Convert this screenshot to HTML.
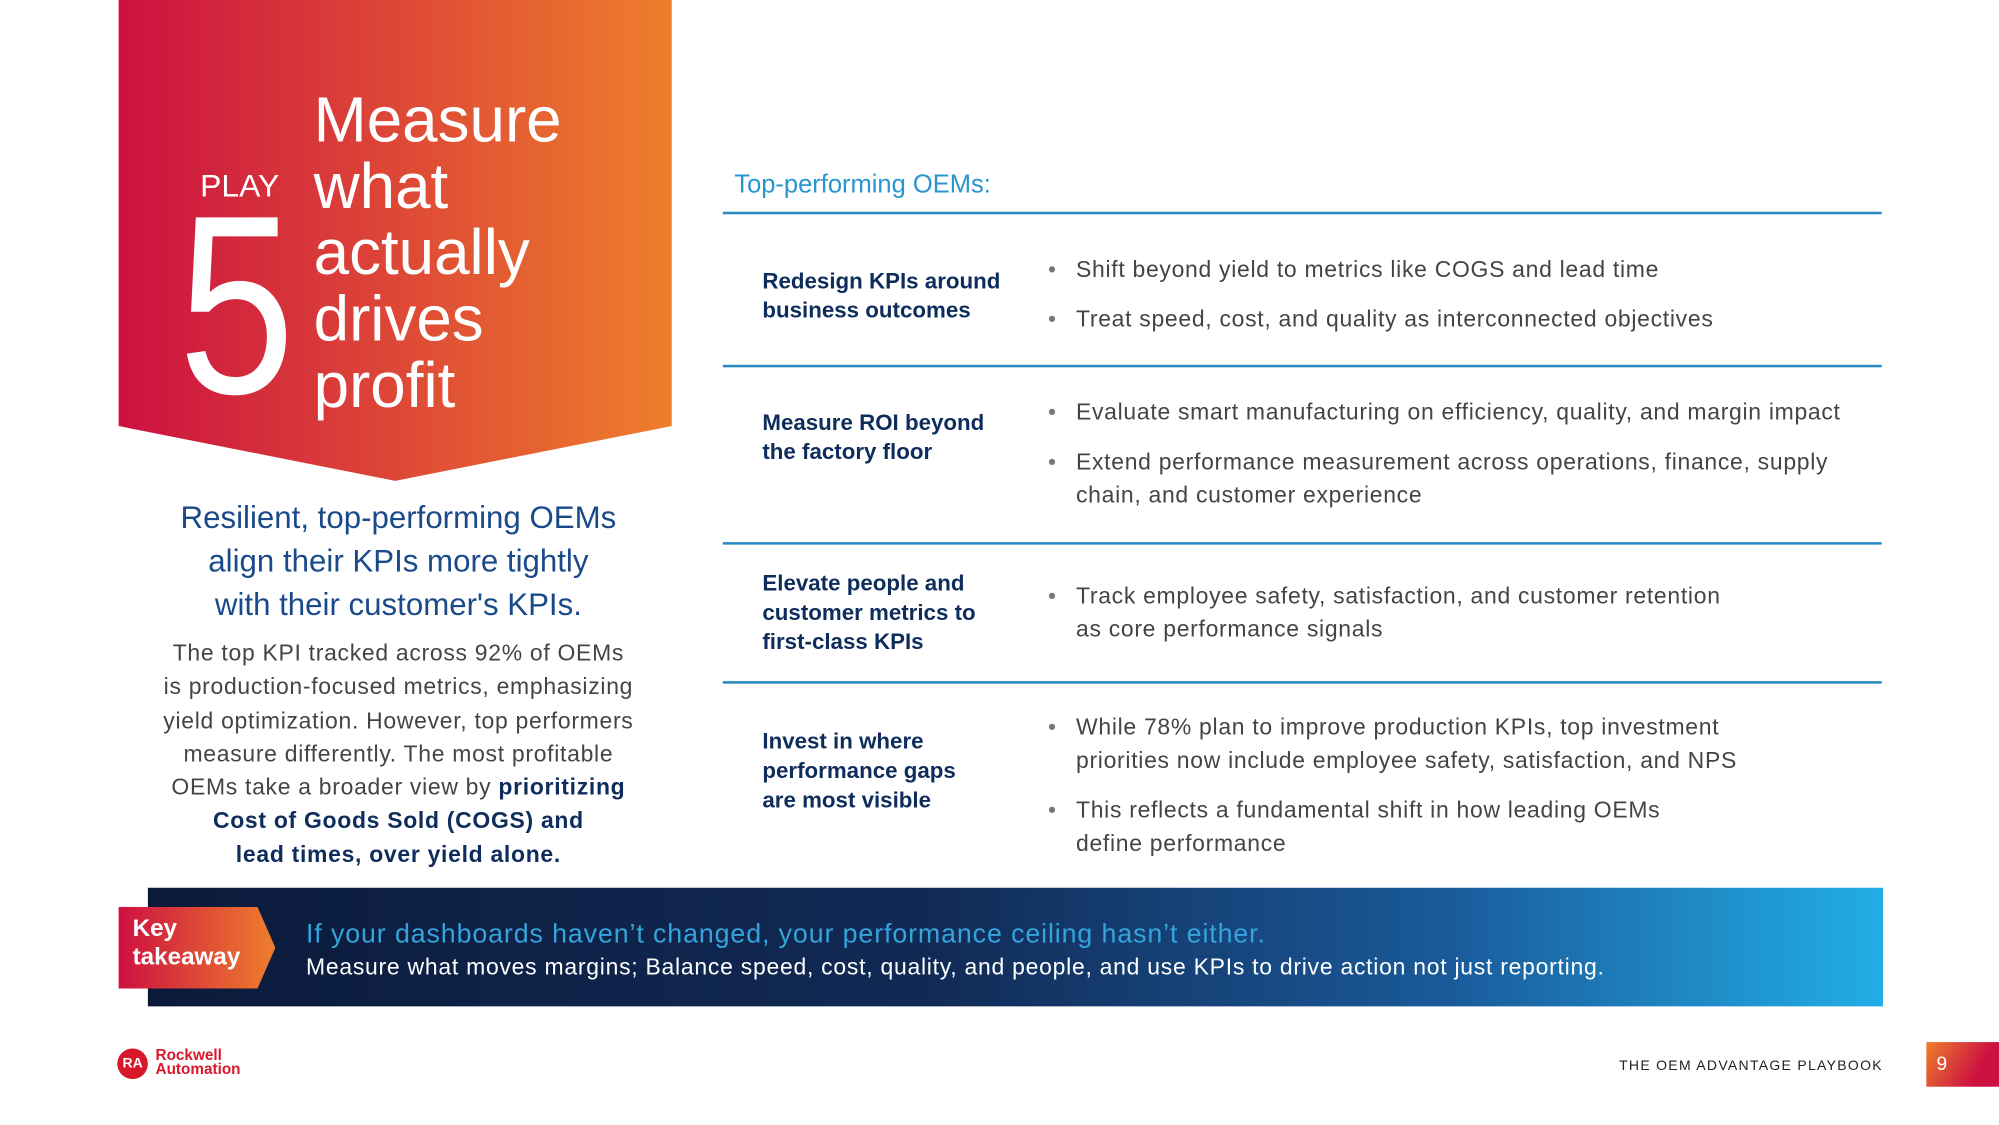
<!DOCTYPE html>
<html><head><meta charset="utf-8"><style>
html,body{margin:0;padding:0;background:#fff;overflow:hidden}
#w{width:1999px;height:1125px;overflow:hidden;position:relative}
#p{position:absolute;left:0;top:0;width:1568px;height:882px;transform:scale(1.27487,1.27551);transform-origin:0 0;font-family:"Liberation Sans",sans-serif}
.a{position:absolute}
.hl{position:absolute;left:567px;width:909px;height:2px;background:#2a8bc4}
.lab{position:absolute;left:598px;color:#0f2d5c;font-weight:bold;font-size:17.5px;line-height:23px}
.b{position:absolute;left:822px;color:#444;font-size:18px;letter-spacing:0.55px;line-height:26px}
.b span{position:absolute;left:0;top:0;color:#777}
.b div{padding-left:22px}
</style></head><body><div id="w"><div id="p">
<svg class="a" style="left:93px;top:0" width="434" height="378">
<defs><linearGradient id="g" x1="0" x2="1"><stop offset="0" stop-color="#cc1141"/><stop offset="1" stop-color="#ee7e2c"/></linearGradient></defs>
<polygon points="0,0 434,0 434,334 217,377 0,334" fill="url(#g)"/></svg>
<div class="a" style="left:157px;top:132px;color:#fff;font-size:25px">PLAY</div>
<div class="a" style="left:140px;top:140px;color:#fff;font-size:200px;line-height:200px;transform:scaleX(0.82);transform-origin:0 0">5</div>
<div class="a" style="left:246px;top:68px;color:#fff;font-size:50px;line-height:52px">Measure<br>what<br>actually<br>drives<br>profit</div>
<div class="a" style="left:90px;top:390px;width:445px;text-align:center;color:#1a4a8a;font-size:24.5px;line-height:34px">Resilient, top-performing OEMs<br>align their KPIs more tightly<br>with their customer's KPIs.</div>
<div class="a" style="left:90px;top:499px;width:445px;text-align:center;color:#444;font-size:18px;letter-spacing:0.55px;line-height:26.3px">The top KPI tracked across 92% of OEMs<br>is production-focused metrics, emphasizing<br>yield optimization. However, top performers<br>measure differently. The most profitable<br>OEMs take a broader view by <b style="color:#0f2d5c">prioritizing<br>Cost of Goods Sold (COGS) and<br>lead times, over yield alone.</b></div>
<div class="a" style="left:576px;top:134px;color:#2a95cf;font-size:20px">Top-performing OEMs:</div>
<div class="hl" style="top:166px"></div>
<div class="hl" style="top:286px"></div>
<div class="hl" style="top:425px"></div>
<div class="hl" style="top:534px"></div>
<div class="lab" style="top:209px">Redesign KPIs around<br>business outcomes</div>
<div class="lab" style="top:320px">Measure ROI beyond<br>the factory floor</div>
<div class="lab" style="top:446px">Elevate people and<br>customer metrics to<br>first-class KPIs</div>
<div class="lab" style="top:570px">Invest in where<br>performance gaps<br>are most visible</div>
<div class="b" style="top:198px"><span>•</span><div>Shift beyond yield to metrics like COGS and lead time</div></div>
<div class="b" style="top:237px"><span>•</span><div>Treat speed, cost, and quality as interconnected objectives</div></div>
<div class="b" style="top:310px"><span>•</span><div>Evaluate smart manufacturing on efficiency, quality, and margin impact</div></div>
<div class="b" style="top:349px"><span>•</span><div>Extend performance measurement across operations, finance, supply<br>chain, and customer experience</div></div>
<div class="b" style="top:454px"><span>•</span><div>Track employee safety, satisfaction, and customer retention<br>as core performance signals</div></div>
<div class="b" style="top:557px"><span>•</span><div>While 78% plan to improve production KPIs, top investment<br>priorities now include employee safety, satisfaction, and NPS</div></div>
<div class="b" style="top:622px"><span>•</span><div>This reflects a fundamental shift in how leading OEMs<br>define performance</div></div>
<div class="a" style="left:116px;top:696px;width:1361px;height:93px;background:linear-gradient(90deg,#0b1a3a 0%,#112a55 45%,#1a5a9a 75%,#22aee6 100%)"></div>
<svg class="a" style="left:93px;top:711px" width="123" height="64"><defs><linearGradient id="g2" x1="0" x2="1"><stop offset="0" stop-color="#cc1141"/><stop offset="1" stop-color="#ee7e2c"/></linearGradient></defs><polygon points="0,0 109,0 123,32 109,64 0,64" fill="url(#g2)"/></svg>
<div class="a" style="left:104px;top:718px;color:#fff;font-weight:bold;font-size:19px;line-height:22px">Key<br>takeaway</div>
<div class="a" style="left:240px;top:721px;color:#35a4dc;font-size:21px;letter-spacing:0.7px">If your dashboards haven’t changed, your performance ceiling hasn’t either.</div>
<div class="a" style="left:240px;top:748px;color:#fff;font-size:18px;letter-spacing:0.58px">Measure what moves margins; Balance speed, cost, quality, and people, and use KPIs to drive action not just reporting.</div>
<div class="a" style="left:92px;top:822px;width:24px;height:24px;border-radius:50%;background:#d7182a;color:#fff;font-size:11px;font-weight:bold;text-align:center;line-height:24px">RA</div>
<div class="a" style="left:122px;top:822px;color:#d7182a;font-size:12px;font-weight:bold;line-height:11px">Rockwell<br>Automation</div>
<div class="a" style="left:1270px;top:830px;color:#222;font-size:11px;letter-spacing:1.0px">THE OEM ADVANTAGE PLAYBOOK</div>
<div class="a" style="left:1511px;top:817px;width:57px;height:35px;background:linear-gradient(120deg,#ee7e2c,#cc1141 70%);color:#fff;font-size:15px;line-height:35px;padding-left:8px;box-sizing:border-box">9</div>
</div></div></body></html>
